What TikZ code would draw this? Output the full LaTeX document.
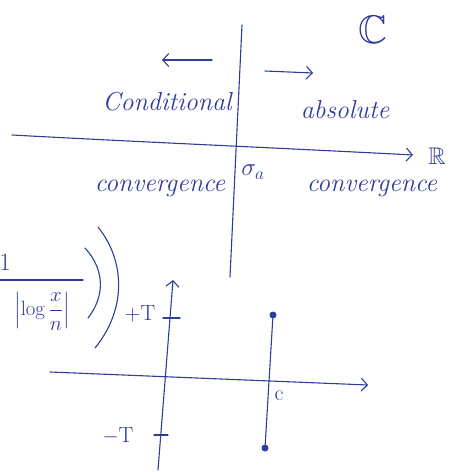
\documentclass[tikz,border=0pt]{standalone}
\usepackage{amsmath}
\usepackage{amssymb}
\usetikzlibrary{arrows.meta}
\definecolor{ink}{HTML}{2E3C9C}
\begin{document}
\begin{tikzpicture}[x=1pt,y=-1pt,
  inkline/.style={draw=ink, line width=1.1pt, line cap=round},
  barb/.style={-{Straight Barb[length=6pt,width=13pt,line width=1.1pt]}},
  hand/.style={text=ink, font=\fontsize{26}{30}\selectfont\itshape, inner sep=0pt},
  mathlbl/.style={text=ink, inner sep=0pt},
  dot/.style={circle, fill=ink, inner sep=0pt, minimum size=7pt}]
\useasboundingbox (0,0) rectangle (464,472);
% ---------- upper diagram ----------
\coordinate (vtop) at (242,25);
\coordinate (vbot) at (230,277);
\draw[inkline] (vtop) -- (vbot);
\coordinate (hl) at (12,135);
\coordinate (hr) at (413,155);
\draw[inkline,barb] (hl) .. controls (120,141) and (300,149) .. (hr);
\coordinate (la1) at (212,60); \coordinate (la2) at (162,60);
\draw[inkline,barb] (la1) -- (la2);
\coordinate (ra1) at (265,71); \coordinate (ra2) at (313,73);
\draw[inkline,barb] (ra1) -- (ra2);
\node[hand] (cond) at (167,102) {Conditional};
\node[hand] (abs) at (345,110) {absolute};
\node[hand] (convL) at (160,188) {convergence};
\node[hand] (convR) at (372,188) {convergence};
\node[mathlbl, font=\fontsize{24}{28}\selectfont] (sigma) at (253,172) {$\sigma_a$};
\node[mathlbl, font=\fontsize{24}{28}\selectfont] (R) at (437,156) {$\mathbb{R}$};
\node[mathlbl, font=\fontsize{40}{44}\selectfont] (C) at (373,30) {$\mathbb{C}$};
% ---------- lower diagram ----------
\node[mathlbl, font=\fontsize{24}{28}\selectfont] (one) at (5,262) {$1$};
\coordinate (fb1) at (0,280); \coordinate (fb2) at (83,280);
\draw[inkline] (fb1) -- (fb2);
\node[mathlbl, font=\fontsize{20}{24}\selectfont] (den) at (42,311) {$\Bigl|\log\dfrac{x}{n}\Bigr|$};
\coordinate (p1a) at (85,248); \coordinate (p1b) at (88,318);
\draw[inkline] (p1a) .. controls (105,270) and (105,296) .. (p1b);
\coordinate (p2a) at (98,227); \coordinate (p2b) at (95,348);
\draw[inkline] (p2a) .. controls (126,262) and (126,310) .. (p2b);
\coordinate (yb) at (158,470); \coordinate (yt) at (173,280);
\draw[inkline,barb] (yb) -- (yt);
\coordinate (t1a) at (163,318); \coordinate (t1b) at (180,318);
\draw[inkline] (t1a) -- (t1b);
\coordinate (t2a) at (154,435); \coordinate (t2b) at (168,435);
\draw[inkline] (t2a) -- (t2b);
\node[hand, font=\fontsize{22}{26}\selectfont] (pT) at (140,314) {+T};
\node[hand, font=\fontsize{22}{26}\selectfont] (mT) at (118,436) {$-$T};
\coordinate (xl) at (50,372); \coordinate (xr) at (368,385);
\draw[inkline,barb] (xl) -- (xr);
\node[dot] (top) at (273,315) {};
\node[dot] (bot) at (265,448) {};
\draw[inkline] (top) -- (bot);
\node[hand, font=\fontsize{22}{26}\selectfont] (c) at (279,396) {c};
\end{tikzpicture}
\end{document}
